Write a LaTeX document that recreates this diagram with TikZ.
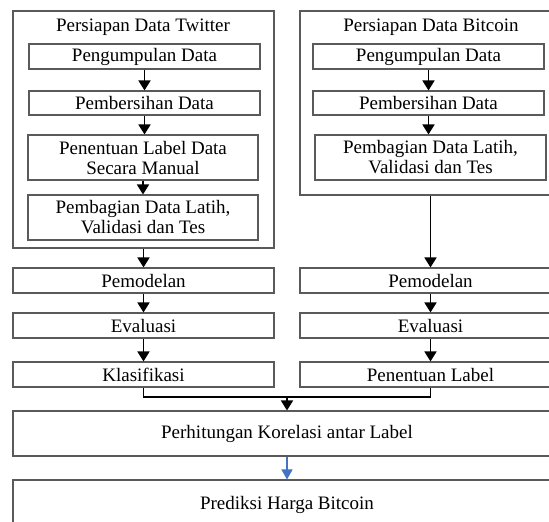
\documentclass[tikz,border=0pt]{standalone}
\usepackage{fontspec}
\setmainfont{Liberation Serif}
\usetikzlibrary{arrows.meta}
\definecolor{boxline}{RGB}{90,90,90}
\definecolor{bluearr}{RGB}{68,114,196}
\begin{document}
\begin{tikzpicture}[x=1pt,y=-1pt,
  txt/.style={font=\fontsize{19}{20}\selectfont},
  box/.style={txt, draw=boxline, line width=1.1pt, fill=white, inner sep=0pt, align=center},
  frame/.style={draw=boxline, line width=1.1pt, inner sep=0pt},
  lbl/.style={txt, inner sep=0pt},
  arr/.style={-{Triangle[width=12pt,length=10pt]}, line width=1.7pt, black},
  barr/.style={-{Triangle[width=11pt,length=10pt]}, line width=1.4pt, bluearr}]
\useasboundingbox (0,0) rectangle (549,522);
\clip (0,0) rectangle (549,522);
\fill[white] (0,0) rectangle (549,522);
% outer frames
\node[frame, minimum width=261pt, minimum height=237pt] (tw) at (143.5,129.5) {};
\node[frame, minimum width=261pt, minimum height=184pt] (bc) at (430.5,103) {};
\node[lbl] (twt) at (143,27) {Persiapan Data Twitter};
\node[lbl] (bct) at (431,27) {Persiapan Data Bitcoin};
% twitter inner
\node[box, minimum width=231pt, minimum height=25pt] (t1) at (144.5,56.5) {Pengumpulan Data};
\node[box, minimum width=231pt, minimum height=24pt] (t2) at (144.5,103) {Pembersihan Data};
\node[box, minimum width=230pt, minimum height=45pt] (t3) at (143,157.5) {Penentuan Label Data\\Secara Manual};
\node[box, minimum width=230pt, minimum height=45pt] (t4) at (143,217.5) {Pembagian Data Latih,\\Validasi dan Tes};
% bitcoin inner
\node[box, minimum width=231pt, minimum height=25pt] (b1) at (428.5,56.5) {Pengumpulan Data};
\node[box, minimum width=231pt, minimum height=24pt] (b2) at (428.5,103) {Pembersihan Data};
\node[box, minimum width=231pt, minimum height=45pt] (b3) at (430.5,157.5) {Pembagian Data Latih,\\Validasi dan Tes};
% lower columns
\node[box, minimum width=261pt, minimum height=25pt] (lp) at (143.5,280.5) {Pemodelan};
\node[box, minimum width=261pt, minimum height=25pt] (le) at (143.5,325.5) {Evaluasi};
\node[box, minimum width=261pt, minimum height=25pt] (lk) at (143.5,374.5) {Klasifikasi};
\node[box, minimum width=261pt, minimum height=25pt] (rp) at (430.5,280.5) {Pemodelan};
\node[box, minimum width=261pt, minimum height=25pt] (re) at (430.5,325.5) {Evaluasi};
\node[box, minimum width=261pt, minimum height=25pt] (rl) at (430.5,374.5) {Penentuan Label};
% bottom
\node[box, minimum width=548pt, minimum height=45pt] (ph) at (287,433.5) {Perhitungan Korelasi antar Label};
\node[box, minimum width=548pt, minimum height=45pt, text depth=0pt] (pr) at (287,502.5) {Prediksi Harga Bitcoin};
\coordinate (m) at (287,397);
% arrows
\draw[arr] (t1.south) -- (t1.south |- t2.north);
\draw[arr] (t2.south) -- (t2.south |- t3.north);
\draw[arr] (t3.south) -- (t3.south |- t4.north);
\draw[arr] (b1.south) -- (b1.south |- b2.north);
\draw[arr] (b2.south) -- (b2.south |- b3.north);
\draw[arr] (tw.south) -- (lp.north);
\draw[arr] (bc.south) -- (rp.north);
\draw[arr] (lp.south) -- (le.north);
\draw[arr] (le.south) -- (lk.north);
\draw[arr] (rp.south) -- (re.north);
\draw[arr] (re.south) -- (rl.north);
\draw[line width=1.7pt] (lk.south) |- (m) -| (rl.south);
\draw[arr] (m) -- (ph.north);
\draw[barr] (ph.south) -- (pr.north);
\end{tikzpicture}
\end{document}
